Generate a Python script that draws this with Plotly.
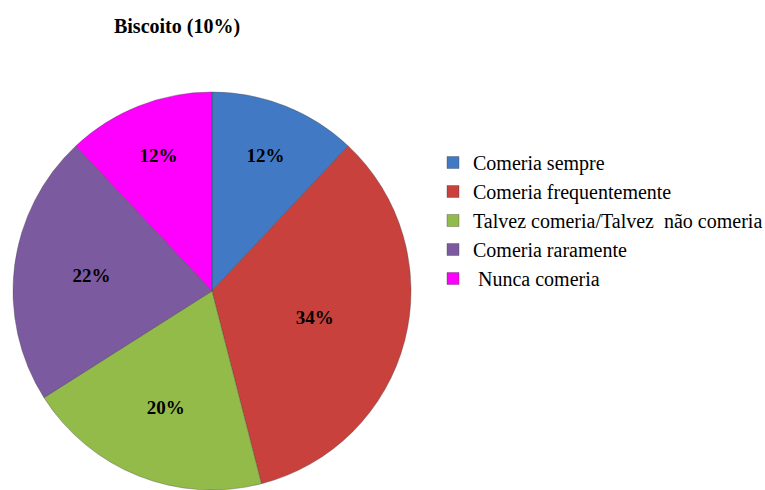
import plotly.graph_objects as go

# Respostas para "Biscoito"
categorias = [
    "Comeria sempre",
    "Comeria frequentemente",
    "Talvez comeria/Talvez  não comeria",
    "Comeria raramente",
    " Nunca comeria",
]
percentuais = [12, 34, 20, 22, 12]
cores = ["#4279c4", "#c8413d", "#93bb4a", "#7b5aa0", "#ff00ff"]

fig = go.Figure(
    go.Pie(
        labels=categorias,
        values=percentuais,
        sort=False,
        direction="clockwise",
        rotation=0,
        marker=dict(colors=cores, line=dict(color="rgba(60,60,60,0.35)", width=1)),
        texttemplate="<b>%{value}%</b>",
        textposition="inside",
        insidetextorientation="horizontal",
        textfont=dict(family="Liberation Serif", size=19, color="black"),
        domain=dict(x=[13 / 765, 411 / 765], y=[0 / 490, 398 / 490]),
        hoverinfo="label+percent",
    )
)

fig.update_layout(
    width=765,
    height=490,
    margin=dict(l=0, r=0, t=0, b=0, autoexpand=False),
    paper_bgcolor="white",
    plot_bgcolor="white",
    font=dict(family="Liberation Serif", size=20, color="black"),
    title=dict(
        text="<b>Biscoito (10%)</b>",
        x=177 / 765,
        xanchor="center",
        y=1 - 26 / 490,
        yanchor="middle",
        font=dict(family="Liberation Serif", size=20, color="black"),
    ),
    legend=dict(
        x=433 / 765,
        xanchor="left",
        y=1 - 143 / 490,
        yanchor="top",
        bgcolor="rgba(0,0,0,0)",
        font=dict(family="Liberation Serif", size=20, color="black"),
        itemwidth=30,
    ),
    showlegend=True,
)

fig.write_html("out.html")
